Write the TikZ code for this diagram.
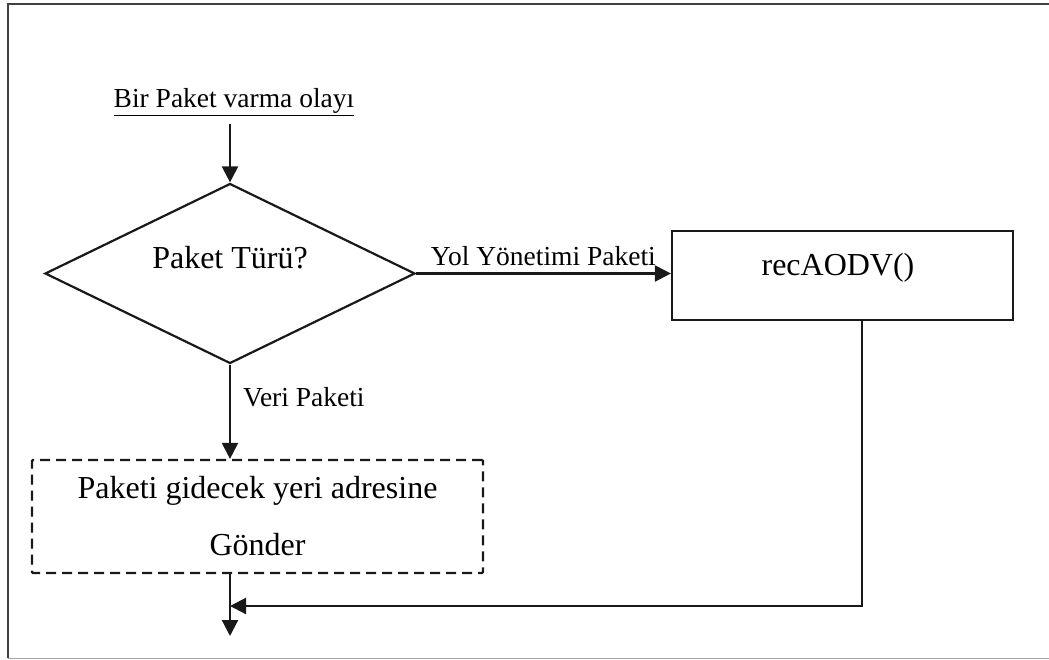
\documentclass[tikz,border=0pt]{standalone}
\usepackage{fontspec}
\setmainfont{Liberation Serif}
\usetikzlibrary{shapes.geometric,arrows.meta,positioning}
\tikzset{
  line/.style={line width=2.2pt, draw=black!90},
  arr/.style={line, -{Triangle[length=16pt,width=16pt]}},
  bigtext/.style={font=\fontsize{32}{38}\selectfont, inner sep=0pt},
  smalltext/.style={font=\fontsize{27.5}{32}\selectfont, inner sep=0pt},
  decision/.style={line, shape=diamond, minimum width=370pt, minimum height=180pt, inner sep=0pt},
  procbox/.style={line, rectangle, minimum width=341pt, minimum height=89pt, inner sep=0pt},
  dashbox/.style={line, rectangle, dash pattern=on 10pt off 6pt, minimum width=451pt, minimum height=113pt, inner sep=0pt, align=center, rounded corners=1pt},
}
\begin{document}
\begin{tikzpicture}[x=1pt,y=-1pt]
\useasboundingbox (0,0) rectangle (1049,659);
% outer frame
\draw[line width=2.2pt, draw=black!75] (8,658) -- (8,4) -- (1060,4);
\draw[line width=1pt, draw=black!35] (8,658) -- (1060,658);

\node[smalltext] (start) at (234,102) {\underline{Bir Paket varma olayı}};
\node[decision] (d) at (230,273.5) {};
\node[bigtext] (dt) at (230,258) {Paket Türü?};
\node[procbox] (r) at (842.5,275.5) {};
\node[bigtext] (rt) at (838,268) {recAODV()};
\node[dashbox, font=\fontsize{32}{38}\selectfont] (g) at (257.5,516.5) {Paketi gidecek yeri adresine\\[19pt]Gönder};
\coordinate (j) at (230,606);
\coordinate (e) at (230,636);

\draw[arr] ([yshift=-8pt]start.south -| d.north) -- (d.north);
\draw[arr] (d.east) -- (d.east -| r.west)
  node[smalltext, pos=1, anchor=south east, yshift=7pt, xshift=-14pt] (lyol) {Yol Yönetimi Paketi};
\draw[arr] (d.south) -- (g.north -| d.south);
\node[smalltext, anchor=west] (lveri) at (243,397) {Veri Paketi};
\draw[arr] (g.south -| d.south) -- (e);
\draw[arr] ([xshift=19.5pt]r.south) |- (j);
\end{tikzpicture}
\end{document}
